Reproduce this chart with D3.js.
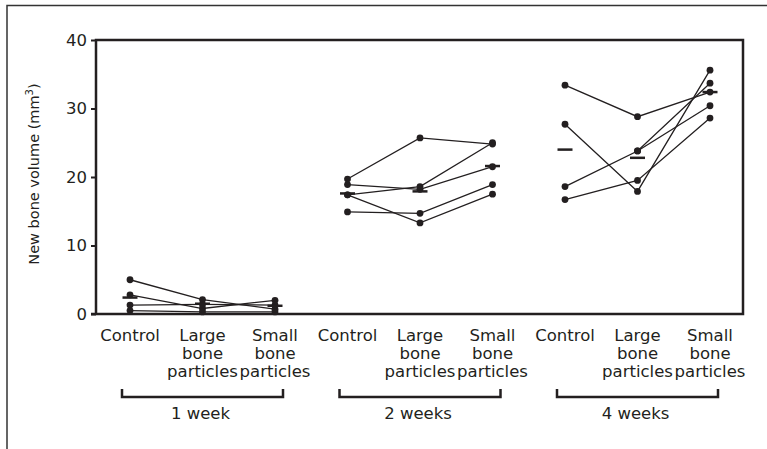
<!DOCTYPE html>
<html>
<head>
<meta charset="utf-8">
<script src="https://cdn.jsdelivr.net/npm/d3@7"></script>
<style>
  html, body { margin: 0; padding: 0; background: #fff; }
  svg { display: block; }
  text { font-family: "DejaVu Sans", sans-serif; fill: #231f20; }
</style>
</head>
<body>
<div id="chart"></div>
<script>
const weeks = ['1 week', '2 weeks', '4 weeks']
const treatments = ['Control', 'Large', 'Small']
const treatmentLabels = [['Control'], ['Large', 'bone', 'particles'], ['Small', 'bone', 'particles']]

// one row per animal: [control, large, small]
const week1 = [[5.0, 2.1, 0.7], [2.8, 0.8, 2.0], [1.3, 1.4, 1.3], [0.5, 0.3, 0.3]]
const week2 = [[19.7, 25.7, 24.8], [18.9, 18.2, 21.5], [17.4, 18.6, 25.0], [17.4, 13.3, 17.5], [14.9, 14.7, 18.9]]
const week4 = [[33.4, 28.8, 32.4], [27.7, 17.9, 35.6], [18.6, 23.8, 33.7], [null, 23.8, 30.4], [16.7, 19.5, 28.6]]
const animals = [week1, week2, week4]

const means = [[2.4, 1.5, 1.2], [17.6, 17.9, 21.6], [24.0, 22.8, 32.4]]
const yTicks = [0, 10, 20, 30, 40]

const width = 767
const height = 449
const plot = { left: 96, right: 743, top: 40, bottom: 314 }
const ink = '#231f20'

const svg = d3.select('#chart').append('svg')
  .attr('width', width)
  .attr('height', height)

// outer frame (top + left only)
svg.append('path')
  .attr('d', `M7,449 V5.5 H767`)
  .attr('fill', 'none')
  .attr('stroke', '#333')
  .attr('stroke-width', 1.5)

const keys = weeks.flatMap(w => treatments.map(t => `${w}|${t}`))
const x = d3.scalePoint().domain(keys).range([130, 710])
const y = d3.scaleLinear().domain([0, 40]).range([plot.bottom, plot.top])

// box around plot area
svg.append('path')
  .attr('d', `M${plot.left},${plot.bottom} V${plot.top} H${plot.right} V${plot.bottom} H${plot.left - 5}`)
  .attr('fill', 'none')
  .attr('stroke', ink)
  .attr('stroke-width', 2.5)

const yAxis = svg.append('g')
  .attr('transform', `translate(${plot.left},0)`)
  .call(d3.axisLeft(y).tickValues(yTicks).tickSize(5).tickPadding(4))
yAxis.select('.domain').remove()
yAxis.selectAll('.tick line').attr('stroke', ink).attr('stroke-width', 2)
yAxis.selectAll('.tick text')
  .attr('font-family', '"DejaVu Sans", sans-serif')
  .attr('font-size', 16.5)
  .attr('fill', '#333')

const yTitle = svg.append('text')
  .attr('transform', `translate(39,174) rotate(-90)`)
  .attr('text-anchor', 'middle')
  .attr('font-size', 14.5)
yTitle.append('tspan').text('New bone volume (mm')
yTitle.append('tspan').attr('font-size', 10).attr('dy', -6).text('3')
yTitle.append('tspan').attr('dy', 6).text(')')

const line = d3.line()
  .defined(d => d.v != null)
  .x(d => x(d.key))
  .y(d => y(d.v))

weeks.forEach((w, wi) => {
  const g = svg.append('g')
  animals[wi].forEach(row => {
    const pts = row.map((v, ti) => ({ key: `${w}|${treatments[ti]}`, v }))
    g.append('path')
      .attr('d', line(pts))
      .attr('fill', 'none')
      .attr('stroke', ink)
      .attr('stroke-width', 1.3)
    g.selectAll(null)
      .data(pts.filter(p => p.v != null))
      .join('circle')
      .attr('cx', d => x(d.key))
      .attr('cy', d => y(d.v))
      .attr('r', 3.4)
      .attr('fill', ink)
  })

  // group means
  g.selectAll(null)
    .data(means[wi].map((v, ti) => ({ key: `${w}|${treatments[ti]}`, v })))
    .join('line')
    .attr('x1', d => x(d.key) - 7.5)
    .attr('x2', d => x(d.key) + 7.5)
    .attr('y1', d => y(d.v))
    .attr('y2', d => y(d.v))
    .attr('stroke', ink)
    .attr('stroke-width', 2.5)

  // category labels
  treatments.forEach((t, ti) => {
    const label = svg.append('text')
      .attr('text-anchor', 'middle')
      .attr('font-size', 16.5)
    treatmentLabels[ti].forEach((s, li) => {
      label.append('tspan')
        .attr('x', x(`${w}|${t}`))
        .attr('y', 341 + li * 17.8)
        .text(s)
    })
  })

  // bracket + week label
  const x0 = x(`${w}|Control`) - 8
  const x1 = x(`${w}|Small`) + 8
  svg.append('path')
    .attr('d', `M${x0},389 V397 H${x1} V389`)
    .attr('fill', 'none')
    .attr('stroke', ink)
    .attr('stroke-width', 2.5)
  svg.append('text')
    .attr('x', (x0 + x1) / 2 - 2)
    .attr('y', 419)
    .attr('text-anchor', 'middle')
    .attr('font-size', 16.5)
    .text(w)
})
</script>
</body>
</html>
